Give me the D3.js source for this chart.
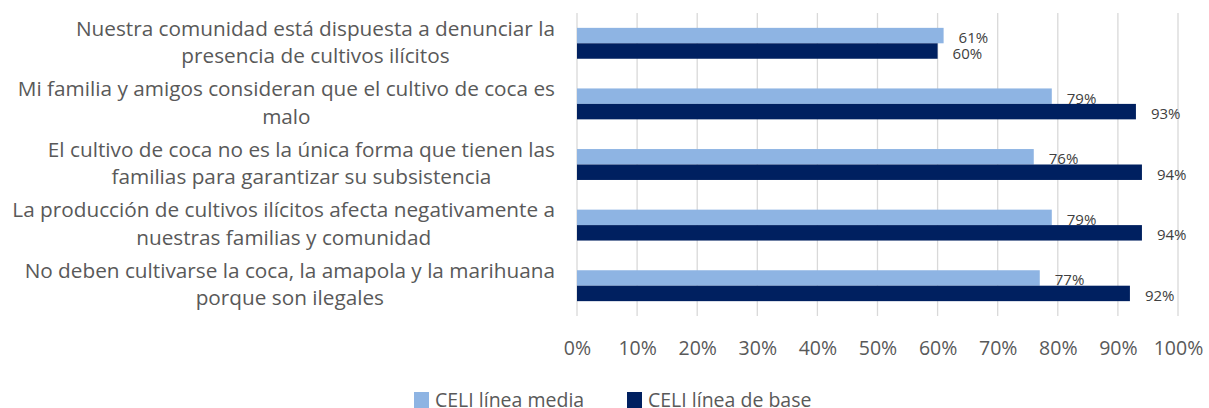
<!DOCTYPE html>
<html>
<head>
<meta charset="utf-8">
<script src="https://cdn.jsdelivr.net/npm/d3@7"></script>
<style>
  html, body { margin: 0; padding: 0; background: #fff; }
  svg { display: block; }
  text { font-family: "Open Sans", "Liberation Sans", sans-serif; }
</style>
</head>
<body>
<svg id="chart" width="1209" height="408"></svg>
<script>
// Statements (top to bottom), line breaks as shown in the axis labels
const categories = [
  "Nuestra comunidad está dispuesta a denunciar la\npresencia de cultivos ilícitos",
  "Mi familia y amigos consideran que el cultivo de coca es\nmalo",
  "El cultivo de coca no es la única forma que tienen las\nfamilias para garantizar su subsistencia",
  "La producción de cultivos ilícitos afecta negativamente a\nnuestras familias y comunidad",
  "No deben cultivarse la coca, la amapola y la marihuana\nporque son ilegales"
];
const seriesNames = ["CELI línea media", "CELI línea de base"];
const lineaMedia = [61, 79, 76, 79, 77];
const lineaBase  = [60, 93, 94, 94, 92];
const xTicks = [0, 10, 20, 30, 40, 50, 60, 70, 80, 90, 100];
const colors = ["#8EB4E3", "#002060"];

const svg = d3.select("#chart");
const plot = { left: 577, right: 1178, top: 13, bottom: 316 };

const x = d3.scaleLinear().domain([0, 100]).range([plot.left, plot.right]);
const y = d3.scaleBand().domain(d3.range(categories.length))
  .range([plot.top, plot.bottom]).paddingInner(0.49).paddingOuter(0.245);
const ySub = d3.scaleBand().domain([0, 1]).range([0, y.bandwidth()]);

// vertical gridlines
svg.append("g").selectAll("line").data(xTicks).join("line")
  .attr("x1", d => x(d)).attr("x2", d => x(d))
  .attr("y1", plot.top).attr("y2", plot.bottom)
  .attr("stroke", "#d9d9d9").attr("stroke-width", 1.3);

// x axis tick labels
const xAxis = d3.axisBottom(x).tickValues(xTicks).tickFormat(d => d + "%").tickSize(0).tickPadding(0);
const gx = svg.append("g").attr("transform", `translate(0,${plot.bottom})`).call(xAxis);
gx.select(".domain").remove();
gx.selectAll("text").attr("font-size", 19.5).attr("fill", "#595959")
  .attr("dy", null).attr("y", 31).attr("dominant-baseline", "central");

// bars
const series = [lineaMedia, lineaBase];
const groups = svg.append("g").selectAll("g").data(categories).join("g")
  .attr("transform", (d, i) => `translate(0,${y(i)})`);

groups.each(function(_, i) {
  const g = d3.select(this);
  series.forEach((vals, s) => {
    g.append("rect")
      .attr("x", x(0)).attr("y", ySub(s))
      .attr("width", x(vals[i]) - x(0)).attr("height", ySub.bandwidth())
      .attr("fill", colors[s]);
    g.append("text")
      .attr("x", x(vals[i]) + 15)
      .attr("y", ySub(s) + ySub.bandwidth() / 2 + 1.5)
      .attr("dominant-baseline", "central")
      .attr("font-size", 15).attr("fill", "#404040")
      .text(vals[i] + "%");
  });
});

// category labels: lines centred within a right-aligned block
const labelRight = 555;
const labelG = svg.append("g");
const catFont = 18;
const blocks = categories.map((c, i) => {
  const lines = c.split("\n");
  const g = labelG.append("g");
  const texts = lines.map((ln, k) => g.append("text")
    .attr("font-size", catFont).attr("fill", "#595959")
    .attr("text-anchor", "middle").attr("dominant-baseline", "central")
    .text(ln));
  return { i, texts };
});
// scale font so the widest line spans the available width
let maxW = 0;
blocks.forEach(b => b.texts.forEach(t => { maxW = Math.max(maxW, t.node().getComputedTextLength()); }));
const fs = catFont * 543 / maxW;
blocks.forEach(b => {
  b.texts.forEach(t => t.attr("font-size", fs));
  let w = 0;
  b.texts.forEach(t => { w = Math.max(w, t.node().getComputedTextLength()); });
  const cx = labelRight - w / 2;
  const cy = y(b.i) + y.bandwidth() / 2;
  const n = b.texts.length;
  b.texts.forEach((t, k) => t.attr("x", cx).attr("y", cy + (k - (n - 1) / 2) * 27.5 - 2));
});

// legend
const legend = svg.append("g");
const legendItems = [{ x: 414 }, { x: 627 }];
seriesNames.forEach((name, s) => {
  legend.append("rect").attr("x", legendItems[s].x).attr("y", 392)
    .attr("width", 15).attr("height", 16).attr("fill", colors[s]);
  legend.append("text").attr("x", legendItems[s].x + 21).attr("y", 407)
    .attr("font-size", 19.5).attr("fill", "#595959").text(name);
});
</script>
</body>
</html>
